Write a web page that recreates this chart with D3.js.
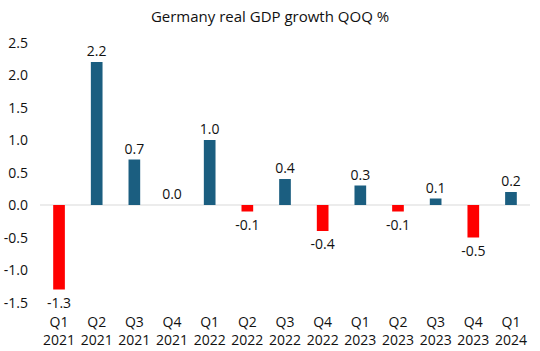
<!DOCTYPE html>
<html><head><meta charset="utf-8">
<script src="https://cdn.jsdelivr.net/npm/d3@7/dist/d3.min.js"></script>
<style>body{margin:0;background:#fff;} text{font-family:"Open Sans","Noto Sans",sans-serif;fill:#111;}</style>
</head><body><svg id="c" width="540" height="351"></svg>
<script>
const quarters = ["Q1","Q2","Q3","Q4","Q1","Q2","Q3","Q4","Q1","Q2","Q3","Q4","Q1"];
const years = ["2021","2021","2021","2021","2022","2022","2022","2022","2023","2023","2023","2023","2024"];
const values = [-1.3,2.2,0.7,0.0,1.0,-0.1,0.4,-0.4,0.3,-0.1,0.1,-0.5,0.2];
const yTicks = [-1.5,-1.0,-0.5,0.0,0.5,1.0,1.5,2.0,2.5];
const title = "Germany real GDP growth QOQ %";

const fmt = d => d3.format(".1f")(d).replace("\u2212","-");
const svg = d3.select("#c");
const cats = quarters.map((q,i)=>q+" "+years[i]);
const x = d3.scaleBand().domain(cats).range([40.2,529.8]).paddingInner(0.69).paddingOuter(0.345);
const y = d3.scaleLinear().domain([-1.5,2.5]).range([302.5,42.5]);

svg.append("text").attr("x",270).attr("y",22).attr("text-anchor","middle")
  .style("font-size","15px").text(title);

const yAxis = svg.append("g").attr("transform","translate(28,0)")
  .call(d3.axisLeft(y).tickValues(yTicks).tickFormat(fmt).tickSize(0).tickPadding(0));
yAxis.select(".domain").remove();
yAxis.selectAll("text").style("font-size","14px").attr("dy","0.35em");

svg.append("line").attr("x1",40).attr("x2",530).attr("y1",y(0)).attr("y2",y(0))
  .attr("stroke","#d9d9d9").attr("stroke-width",1);

svg.selectAll("rect.bar").data(values).join("rect").attr("class","bar")
  .attr("x",(d,i)=>x(cats[i])).attr("width",x.bandwidth())
  .attr("y",d=>y(Math.max(0,d))).attr("height",d=>Math.abs(y(d)-y(0)))
  .attr("fill",d=>d<0?"#ff0000":"#1b5e80");

svg.selectAll("text.val").data(values).join("text").attr("class","val")
  .attr("x",(d,i)=>x(cats[i])+x.bandwidth()/2)
  .attr("y",d=>d<0?y(d)+18:y(d)-6)
  .attr("text-anchor","middle").style("font-size","14px")
  .text(fmt);

const xAxis = svg.append("g").attr("transform","translate(0,313)")
  .call(d3.axisBottom(x).tickSize(0).tickFormat(()=>""));
xAxis.select(".domain").remove();
xAxis.selectAll(".tick").each(function(d,i){
  const t = d3.select(this).select("text").text(null).style("font-size","14px").attr("y",0);
  t.append("tspan").attr("x",0).attr("dy","1em").text(quarters[i]);
  t.append("tspan").attr("x",0).attr("dy","1.3em").text(years[i]);
});
</script></body></html>
